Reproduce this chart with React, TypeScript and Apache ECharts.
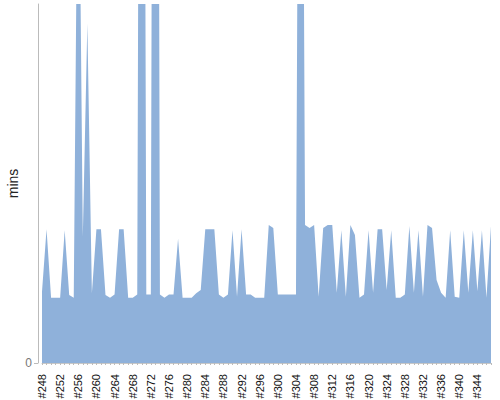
import React, { useEffect, useRef } from 'react';
import * as echarts from 'echarts';

const builds = [
  '#248', '#249', '#250', '#251', '#252', '#253', '#254', '#255', '#256', '#257',
  '#258', '#259', '#260', '#261', '#262', '#263', '#264', '#265', '#266', '#267',
  '#268', '#269', '#270', '#271', '#272', '#273', '#274', '#275', '#276', '#277',
  '#278', '#279', '#280', '#281', '#282', '#283', '#284', '#285', '#286', '#287',
  '#288', '#289', '#290', '#291', '#292', '#293', '#294', '#295', '#296', '#297',
  '#298', '#299', '#300', '#301', '#302', '#303', '#304', '#305', '#306', '#307',
  '#308', '#309', '#310', '#311', '#312', '#313', '#314', '#315', '#316', '#317',
  '#318', '#319', '#320', '#321', '#322', '#323', '#324', '#325', '#326', '#327',
  '#328', '#329', '#330', '#331', '#332', '#333', '#334', '#335', '#336', '#337',
  '#338', '#339', '#340', '#341', '#342', '#343', '#344', '#345', '#346', '#347',
];

const mins = [
  2.18, 4.1, 2.0, 2.0, 2.0, 4.07, 2.08, 2.0, 18.4, 3.87,
  10.4, 2.14, 4.1, 4.1, 2.08, 2.0, 2.1, 4.1, 4.1, 2.0,
  2.0, 2.1, 47.7, 2.1, 2.1, 56.7, 2.1, 2.0, 2.1, 2.1,
  3.81, 2.0, 2.0, 2.0, 2.14, 2.24, 4.1, 4.1, 4.1, 2.1,
  2.0, 2.1, 4.07, 2.03, 4.1, 2.1, 2.1, 2.0, 2.0, 2.0,
  4.23, 4.14, 2.1, 2.1, 2.1, 2.1, 2.1, 33.7, 4.23, 4.14,
  4.23, 2.03, 4.14, 4.23, 4.23, 2.15, 4.07, 2.03, 4.23, 3.92,
  2.0, 2.1, 4.07, 2.15, 4.1, 4.1, 2.24, 4.07, 2.0, 2.0,
  2.1, 4.2, 2.15, 4.07, 2.03, 4.23, 4.14, 2.54, 2.15, 2.0,
  4.07, 2.03, 2.0, 4.07, 2.15, 4.07, 2.2, 4.07, 2.0, 4.2,
];

const yTicks = [0];

export default function App() {
  const ref = useRef<HTMLDivElement>(null);
  useEffect(() => {
    const chart = echarts.init(ref.current!, null, { renderer: 'svg' });
    chart.setOption({
      animation: false,
      grid: { left: 42, right: 9, top: 4, bottom: 37, outerBoundsMode: 'none', containLabel: false },
      xAxis: {
        type: 'category',
        data: builds,
        boundaryGap: false,
        offset: 6,
        axisLine: { show: true, lineStyle: { color: '#c8c8c8', width: 1 } },
        axisTick: { show: true, interval: 0, length: 2, lineStyle: { color: '#bbbbbb' } },
        axisLabel: {
          interval: 3,
          rotate: 90,
          fontSize: 11,
          color: '#111',
          fontFamily: 'Liberation Sans',
          margin: 5,
        },
        splitLine: { show: false },
      },
      yAxis: {
        type: 'value',
        min: 0,
        max: 11,
        offset: 4,
        name: 'mins',
        nameLocation: 'middle',
        nameGap: 18,
        nameMoveOverlap: false,
        nameTextStyle: { color: '#222', fontSize: 14, fontFamily: 'Liberation Sans' },
        axisLine: { show: true, lineStyle: { color: '#bbbbbb', width: 1 } },
        axisTick: { show: true, length: 4, customValues: yTicks, lineStyle: { color: '#bbbbbb' } },
        axisLabel: { customValues: yTicks, color: '#777', fontSize: 12, fontFamily: 'Liberation Sans', margin: 6 },
        splitLine: { show: false },
      },
      series: [
        {
          type: 'line',
          data: mins,
          symbol: 'none',
          clip: true,
          lineStyle: { width: 0, color: '#8FB1DA' },
          areaStyle: { color: '#8FB1DA', opacity: 1 },
        },
      ],
    });
    return () => chart.dispose();
  }, []);
  return (
    <div
      ref={ref}
      style={{ position: 'absolute', left: 0, top: 0, width: 500, height: 400 }}
    />
  );
}
